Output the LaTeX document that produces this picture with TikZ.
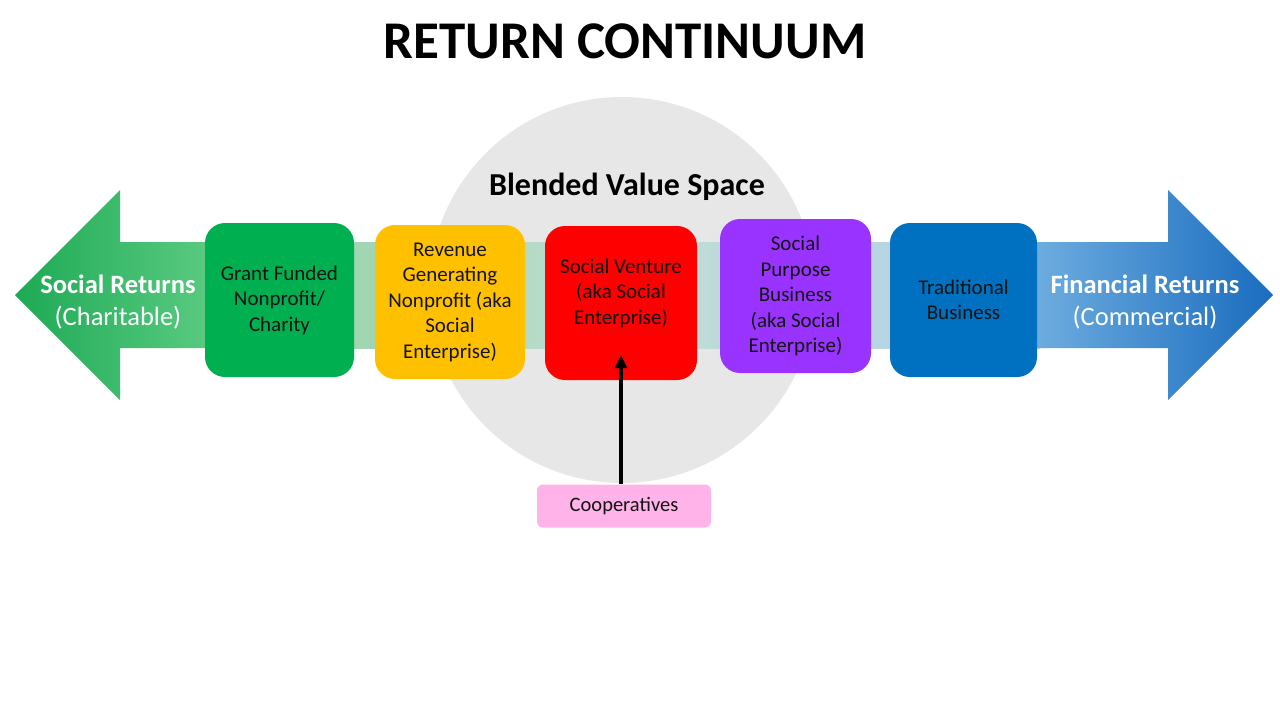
\documentclass[tikz,border=0pt]{standalone}
\usepackage{fontspec}
\setmainfont{Carlito}
\usetikzlibrary{arrows.meta}
\definecolor{cgreen}{HTML}{00B050}
\definecolor{cyellow}{HTML}{FFC000}
\definecolor{cred}{HTML}{FF0000}
\definecolor{cpurple}{HTML}{9933FF}
\definecolor{cblue}{HTML}{0070C0}
\definecolor{cpink}{HTML}{FFB3E8}
\definecolor{cgray}{HTML}{E7E7E7}
\definecolor{lgA}{HTML}{1DAA55}
\definecolor{lgB}{HTML}{5CCB82}
\definecolor{bandA}{HTML}{8ED29E}
\definecolor{bandM}{HTML}{C0DDD2}
\definecolor{bandB}{HTML}{B1D1EC}
\definecolor{rbA}{HTML}{6FAEE0}
\definecolor{rbB}{HTML}{1A6CBF}
\definecolor{txt}{HTML}{141414}
\tikzset{
  stage/.style={rounded corners=20pt, minimum width=150pt, minimum height=154pt,
    inner sep=0pt, align=center, text=txt, font=\fontsize{21}{25.5}\selectfont},
  endlabel/.style={align=center, text=white, font=\fontsize{26.5}{32}\selectfont},
  stagetext/.style={align=center, text=txt, font=\fontsize{21}{25.5}\selectfont},
}
\begin{document}
\begin{tikzpicture}[x=1pt,y=-1pt]
\useasboundingbox (0,0) rectangle (1280,720);
\fill[white] (0,0) rectangle (1280,720);
% title
\node[font=\fontsize{53}{60}\selectfont\bfseries] (title) at (625,41) {RETURN CONTINUUM};
% gray circle
\fill[cgray] (622,290) circle (193);
\node[font=\fontsize{32}{36}\selectfont\bfseries] (bvs) at (627,187) {Blended Value Space};
% middle band
\shade[left color=bandA, right color=bandB, middle color=bandM] (205,242) rectangle (1040,348);
% left arrow
\shade[left color=lgA, right color=lgB] (15,295) -- (120,190) -- (120,242) -- (215,242) -- (215,348) -- (120,348) -- (120,400) -- cycle;
% right arrow
\shade[left color=rbA, right color=rbB] (1030,242) -- (1168,242) -- (1168,190) -- (1273,295) -- (1168,400) -- (1168,348) -- (1030,348) -- cycle;
\node[endlabel] (soc) at (118,302) {\textbf{Social Returns}\\(Charitable)};
\node[endlabel] (fin) at (1145,302) {\textbf{Financial Returns}\\(Commercial)};
% stages
\node[stage, fill=cgreen, minimum width=149pt] (gf) at (279.5,300) {Grant Funded\\Nonprofit/\\Charity};
\node[stage, fill=cyellow] (rg) at (450,302) {Revenue\\Generating\\Nonprofit (aka\\Social\\Enterprise)};
\node[stage, fill=cred, minimum width=152pt] (sv) at (621,303) {};
\node[stagetext] (svt) at (621,293) {Social Venture\\(aka Social\\Enterprise)};
\node[stage, fill=cpurple, minimum width=151pt] (sp) at (795.5,296) {Social\\Purpose\\Business\\(aka Social\\Enterprise)};
\node[stage, fill=cblue, minimum width=147pt] (tb) at (963.5,300) {Traditional\\Business};
% cooperatives
\node[rounded corners=6pt, fill=cpink, minimum width=174pt, minimum height=43pt, inner sep=0pt,
  text=txt, font=\fontsize{20.5}{24}\selectfont] (coop) at (624,506) {Cooperatives};
\draw[line width=3.5pt, -{Triangle[length=13pt,width=12pt]}] (coop.north -| sv.south) -- ([yshift=25pt]sv.south);
\end{tikzpicture}
\end{document}
